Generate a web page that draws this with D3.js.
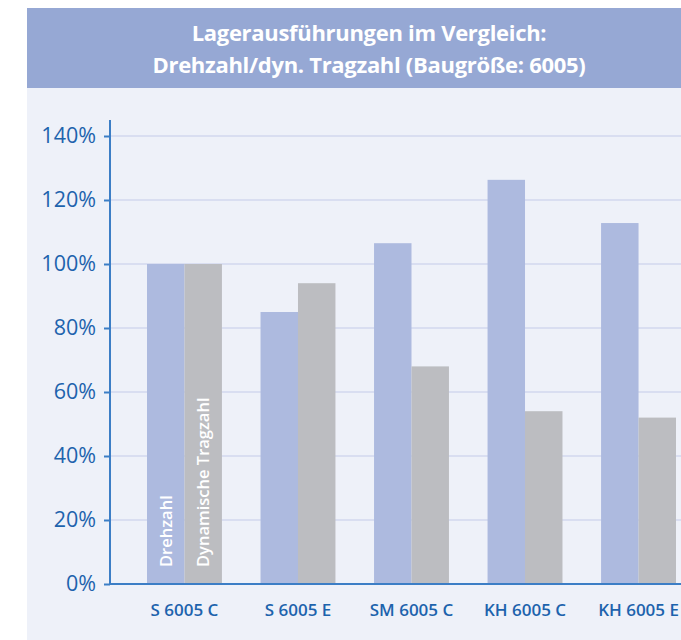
<!DOCTYPE html>
<html>
<head>
<meta charset="utf-8">
<script src="https://cdn.jsdelivr.net/npm/d3@7"></script>
<style>
  html, body { margin: 0; padding: 0; background: #ffffff; }
  svg { display: block; }
</style>
</head>
<body>
<svg id="chart" width="681" height="640"></svg>
<script>
// Bearing variants compared (size 6005), values in % of the standard design
const categories = ["S 6005 C", "S 6005 E", "SM 6005 C", "KH 6005 C", "KH 6005 E"];
const series = ["Drehzahl", "Dynamische Tragzahl"];
const drehzahl = [100, 85, 106.5, 126.3, 112.8];
const tragzahl = [100, 94, 68, 54, 52];
const yTicks = [0, 20, 40, 60, 80, 100, 120, 140];
const titleLines = ["Lagerausführungen im Vergleich:", "Drehzahl/dyn. Tragzahl (Baugröße: 6005)"];

const W = 681, H = 640;
const svg = d3.select("#chart");

const colors = { "Drehzahl": "#adbadf", "Dynamische Tragzahl": "#bcbdc1" };
const blue = "#1d63ad";
const axisBlue = "#3c7ec6";

// panel and title band
svg.append("rect").attr("x", 27).attr("y", 88).attr("width", W - 27).attr("height", H - 88).attr("fill", "#eef1f9");
svg.append("rect").attr("x", 27).attr("y", 8).attr("width", W - 27).attr("height", 80).attr("fill", "#96a8d4");

svg.append("g").selectAll("text").data(titleLines).join("text")
  .attr("x", 369).attr("y", (d, i) => 41 + i * 32)
  .attr("text-anchor", "middle")
  .attr("fill", "#ffffff")
  .attr("font-family", "'Open Sans', sans-serif")
  .attr("font-weight", 700)
  .attr("font-size", 22)
  .attr("letter-spacing", -0.3)
  .text(d => d);

const y = d3.scaleLinear().domain([0, 140]).range([584, 136]);
const x0 = d3.scaleBand().domain(categories).range([110, 713]).paddingInner(0.34).paddingOuter(0.326);
const x1 = d3.scaleBand().domain(series).range([0, x0.bandwidth()]);

// gridlines
svg.append("g").selectAll("line").data(yTicks.filter(t => t > 0)).join("line")
  .attr("x1", 110).attr("x2", W)
  .attr("y1", d => y(d)).attr("y2", d => y(d))
  .attr("stroke", "#d9def1").attr("stroke-width", 2);

// bars
const rows = categories.map((c, i) => ({ cat: c, values: [drehzahl[i], tragzahl[i]] }));
const groups = svg.append("g").selectAll("g").data(rows).join("g")
  .attr("transform", d => `translate(${x0(d.cat)},0)`);
groups.selectAll("rect").data(d => series.map((s, j) => ({ s, v: d.values[j] }))).join("rect")
  .attr("x", d => x1(d.s))
  .attr("width", x1.bandwidth())
  .attr("y", d => y(d.v))
  .attr("height", d => y(0) - y(d.v))
  .attr("fill", d => colors[d.s]);

// series names written inside the first group's bars
svg.append("g").selectAll("text").data(series).join("text")
  .attr("transform", d => `translate(${x0(categories[0]) + x1(d) + x1.bandwidth() / 2 + 6},${y(0) - 17}) rotate(-90)`)
  .attr("fill", "#ffffff")
  .attr("font-family", "'Open Sans', sans-serif")
  .attr("font-weight", 600)
  .attr("font-size", 16.5)
  .text(d => d);

// y axis
const yAxis = d3.axisLeft(y).tickValues(yTicks).tickFormat(d => d + "%").tickSize(6).tickPadding(8);
const gy = svg.append("g").attr("transform", "translate(110,0)").call(yAxis);
gy.select(".domain").remove();
gy.selectAll(".tick line").attr("stroke", axisBlue).attr("stroke-width", 2);
gy.selectAll(".tick text").attr("fill", blue)
  .attr("font-family", "'Open Sans', sans-serif").attr("font-size", 21.5);
svg.append("line").attr("x1", 110).attr("x2", 110).attr("y1", 120).attr("y2", 585)
  .attr("stroke", axisBlue).attr("stroke-width", 2);

// x axis
const xAxis = d3.axisBottom(x0).tickSize(0).tickPadding(20);
const gx = svg.append("g").attr("transform", `translate(0,${y(0)})`).call(xAxis);
gx.select(".domain").remove();
gx.selectAll(".tick text").attr("fill", blue)
  .attr("font-family", "'Open Sans', sans-serif").attr("font-weight", 600).attr("font-size", 17);
svg.append("line").attr("x1", 109).attr("x2", W).attr("y1", y(0)).attr("y2", y(0))
  .attr("stroke", axisBlue).attr("stroke-width", 2);
</script>
</body>
</html>
